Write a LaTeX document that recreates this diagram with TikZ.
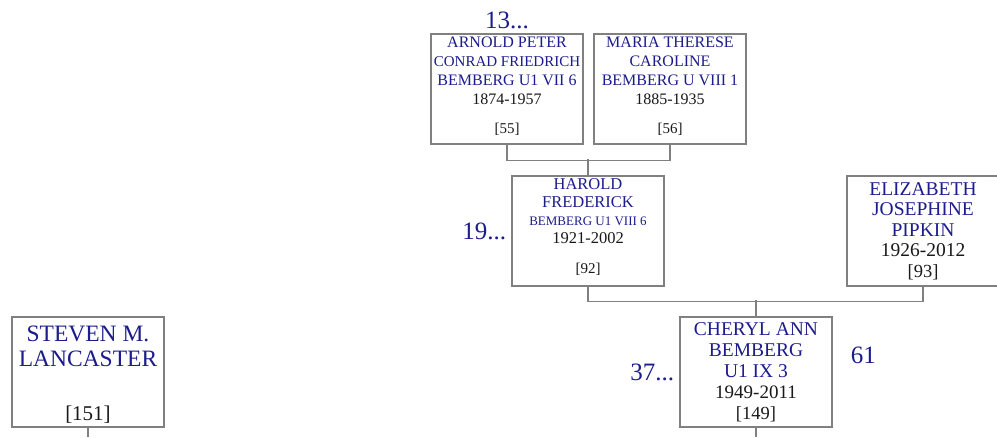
\documentclass[tikz,border=0pt]{standalone}
\usepackage{fontspec}
\setmainfont{Liberation Serif}
\usetikzlibrary{positioning, calc}
\definecolor{namecol}{RGB}{28,28,140}
\definecolor{datecol}{RGB}{25,25,25}
\definecolor{linegray}{RGB}{128,128,128}
\newcommand\nm[2]{{\fontsize{#1}{#1}\selectfont\color{namecol}#2}}
\newcommand\dt[2]{{\fontsize{#1}{#1}\selectfont\color{datecol}#2}}
\newcommand\lowpad[1]{\rule[-#1]{0pt}{#1}}
\tikzset{
  person/.style={rectangle, draw=linegray, line width=1.3pt, fill=white,
                 minimum width=152pt, minimum height=110pt,
                 inner sep=0pt, align=center},
  link/.style={draw=linegray, line width=1.3pt},
  gen/.style={text=namecol, font=\fontsize{25}{25}\selectfont, inner sep=0pt},
}
\begin{document}
\begin{tikzpicture}[x=1pt, y=-1pt]
  \useasboundingbox (0,0) rectangle (997,437);
  \coordinate (pagebottom) at (0,437);
  %% great-grandparents
  \node[person, font=\fontsize{15}{19}\selectfont] (arnold) at (507,89)
    {\nm{16}{ARNOLD PETER}\\ \nm{15}{CONRAD FRIEDRICH}\\
     \nm{16}{BEMBERG U1 VII 6}\\ \dt{16}{1874-1957}\\[10pt] \dt{15}{[55]\lowpad{7pt}}};
  \node[person, font=\fontsize{15}{19}\selectfont] (maria) at (670,89)
    {\nm{16}{MARIA THERESE}\\ \nm{16}{CAROLINE}\\
     \nm{16}{BEMBERG U VIII 1}\\ \dt{16}{1885-1935}\\[10pt] \dt{15}{[56]\lowpad{7pt}}};
  \node[gen, above=4pt of arnold] (g13) {13...};
  \draw[link] (arnold.south) -- ++(0,16) -| (maria.south);
  %% grandparents
  \node[person, font=\fontsize{16}{18}\selectfont] (harold) at (588,231)
    {\nm{16.5}{HAROLD}\\ \nm{16.5}{FREDERICK}\\ \nm{13}{BEMBERG U1 VIII 6}\\
     \dt{16.5}{1921-2002}\\[12pt] \dt{15}{[92]\lowpad{9pt}}};
  \node[person, font=\fontsize{19}{20.5}\selectfont] (eliz) at (923,231)
    {\nm{19.5}{ELIZABETH}\\ \nm{19.5}{JOSEPHINE}\\ \nm{19.5}{PIPKIN}\\
     \dt{19.5}{1926-2012}\\ \dt{18.5}{[93]}};
  \node[gen, left=5pt of harold] (g19) {19...};
  \draw[link] (harold.north) -- ++(0,-16);
  \draw[link] (harold.south) -- ++(0,15) -| (eliz.south);
  %% parents
  \node[person, font=\fontsize{19}{21}\selectfont] (cheryl) at (756,372)
    {\nm{19.5}{CHERYL ANN}\\ \nm{19.5}{BEMBERG}\\ \nm{19.5}{U1 IX 3}\\
     \dt{19}{1949-2011}\\ \dt{18.5}{[149]}};
  \node[person, font=\fontsize{23}{25}\selectfont] (steven) at (88,372)
    {\nm{23.5}{\rule{0pt}{20pt}STEVEN M.}\\ \nm{23.5}{LANCASTER}\\[29pt] \dt{21}{[151]}};
  \node[gen, left=5pt of cheryl] (g37) {37...};
  \node[gen, right=18pt of cheryl, yshift=17pt] (g61) {61};
  \draw[link] (cheryl.north) -- ++(0,-16);
  \draw[link] (cheryl.south) -- (cheryl.south |- pagebottom);
  \draw[link] (steven.south) -- (steven.south |- pagebottom);
\end{tikzpicture}
\end{document}
